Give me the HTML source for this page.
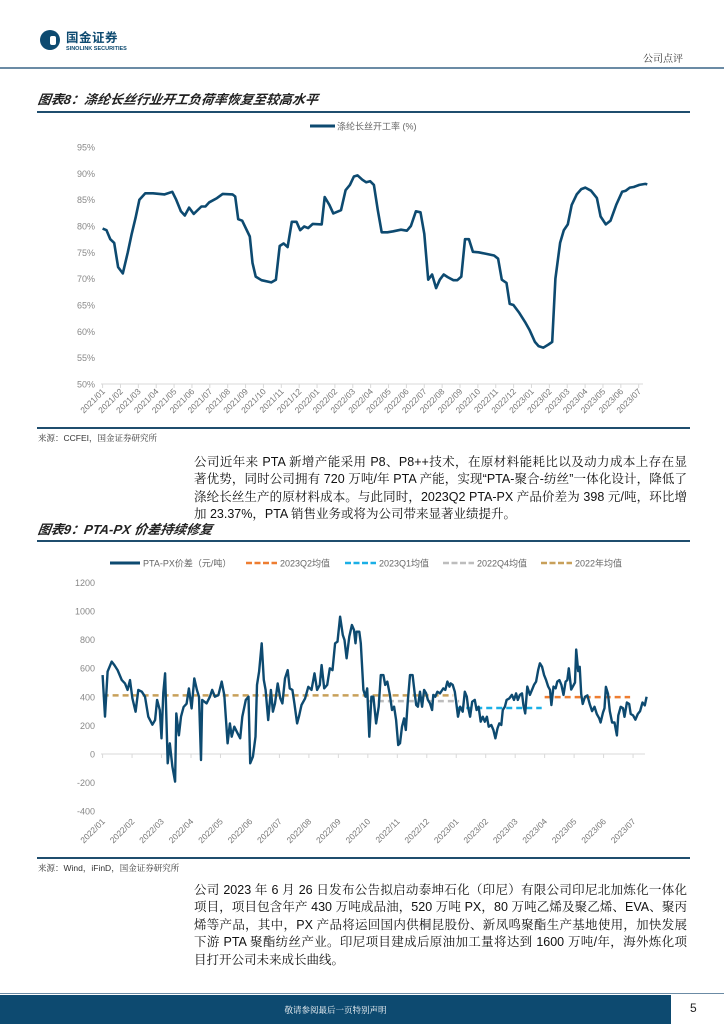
<!DOCTYPE html>
<html><head><meta charset="utf-8">
<style>
body{margin:0;width:724px;height:1024px;position:relative;background:#fff;font-family:"Liberation Sans","Noto Sans CJK SC",sans-serif;overflow:hidden}
.abs{position:absolute}
.title{font-family:"Liberation Sans","Noto Sans CJK SC",sans-serif;font-weight:bold;font-style:italic;font-size:13px;color:#222;transform:skewX(-8deg)}
.para{font-family:"Liberation Sans","Noto Serif CJK SC",serif;font-size:12.5px;color:#111;left:194px;width:493px}
.para div{text-align:justify;text-align-last:justify;height:17.4px;line-height:17.4px;white-space:nowrap}
.para div.last{text-align-last:left}
.src{font-family:"Liberation Sans","Noto Serif CJK SC",serif;font-size:8.5px;color:#333}
</style></head><body>
<div class="abs" style="left:40px;top:30px;width:20px;height:20px;border-radius:50%;background:#0d4a70"></div>
<div class="abs" style="left:50px;top:36px;width:6px;height:9px;background:#fff;border-radius:2px"></div>
<div class="abs" style="left:66px;top:31px;font-size:12.5px;line-height:14px;font-weight:bold;color:#0d4a70;letter-spacing:0.5px">国金证券</div>
<div class="abs" style="left:66px;top:46px;font-size:5.5px;line-height:6px;font-weight:bold;color:#0d4a70">SINOLINK SECURITIES</div>
<div class="abs" style="left:643px;top:50px;font-size:10px;color:#333;font-family:'Liberation Serif','Noto Serif CJK SC',serif">公司点评</div>
<div class="abs" style="left:0;top:67px;width:724px;height:2px;background:#6b8ba5"></div>

<div class="abs title" style="left:38px;top:89px">图表8：涤纶长丝行业开工负荷率恢复至较高水平</div>
<div class="abs" style="left:37px;top:111px;width:653px;height:1.5px;background:#1f4e6e"></div>

<div class="abs" style="left:37px;top:427px;width:653px;height:1.5px;background:#1f4e6e"></div>
<div class="abs src" style="left:38px;top:432px">来源：CCFEI，国金证券研究所</div>

<div class="abs para" style="top:454px">
<div>公司近年来 PTA 新增产能采用 P8、P8++技术，在原材料能耗比以及动力成本上存在显</div>
<div>著优势，同时公司拥有 720 万吨/年 PTA 产能，实现“PTA-聚合-纺丝”一体化设计，降低了</div>
<div>涤纶长丝生产的原材料成本。与此同时，2023Q2 PTA-PX 产品价差为 398 元/吨，环比增</div>
<div class="last">加 23.37%，PTA 销售业务或将为公司带来显著业绩提升。</div>
</div>

<div class="abs title" style="left:38px;top:519px">图表9：PTA-PX 价差持续修复</div>
<div class="abs" style="left:37px;top:540px;width:653px;height:1.5px;background:#1f4e6e"></div>

<div class="abs" style="left:37px;top:857px;width:653px;height:1.5px;background:#1f4e6e"></div>
<div class="abs src" style="left:38px;top:862px">来源：Wind，iFinD，国金证券研究所</div>

<div class="abs para" style="top:882px">
<div>公司 2023 年 6 月 26 日发布公告拟启动泰坤石化（印尼）有限公司印尼北加炼化一体化</div>
<div>项目，项目包含年产 430 万吨成品油，520 万吨 PX，80 万吨乙烯及聚乙烯、EVA、聚丙</div>
<div>烯等产品，其中，PX 产品将运回国内供桐昆股份、新凤鸣聚酯生产基地使用，加快发展</div>
<div>下游 PTA 聚酯纺丝产业。印尼项目建成后原油加工量将达到 1600 万吨/年，海外炼化项</div>
<div class="last">目打开公司未来成长曲线。</div>
</div>

<div class="abs" style="left:0;top:995px;width:671px;height:29px;background:#0d4a70"></div>
<div class="abs" style="left:0;top:993px;width:724px;height:1px;background:#6b8ba5"></div>
<div class="abs" style="left:0;width:671px;top:1004px;text-align:center;font-size:8.5px;color:#fff;font-family:'Liberation Serif','Noto Serif CJK SC',serif">敬请参阅最后一页特别声明</div>
<div class="abs" style="left:690px;top:1001px;font-size:12px;color:#222">5</div>

<svg id="svg" class="abs" style="left:0;top:0" width="724" height="1024"></svg>

<script>
// ---- Chart 8 data (months since 2021/01, utilization %)
const c1Months = [0,0.22,0.43,0.65,0.87,1.13,1.41,1.63,1.84,2.06,2.39,2.82,3.47,3.9,4.12,4.38,4.6,4.84,5.1,5.53,5.75,5.97,6.4,6.72,7.27,7.42,7.59,7.81,8.24,8.39,8.57,8.89,9.44,9.7,9.91,10.13,10.35,10.59,10.85,11.06,11.28,11.5,11.76,12.26,12.43,12.69,12.91,13.34,13.6,13.84,14.06,14.27,14.53,14.75,14.97,15.18,15.4,15.62,15.94,16.27,16.7,17.03,17.25,17.53,17.79,18,18.22,18.44,18.66,18.87,19.09,19.31,19.63,19.85,20.07,20.28,20.5,20.72,21.04,21.48,21.91,22.13,22.34,22.6,22.78,22.99,23.32,23.64,23.9,24.19,24.4,24.66,24.95,25.16,25.34,25.6,25.81,26.03,26.25,26.53,26.79,27.01,27.33,27.66,27.87,28.16,28.42,28.74,29.07,29.28,29.5,29.72,30.04,30.37,30.48];
const c1Values = [79.5,79.2,77.5,76.8,72.2,71,75,78.5,81.5,85,86.2,86.2,86,86.5,85,82.8,82,83.5,82.3,83.7,83.7,84.5,85.3,86.1,86,85.6,81.3,81,78,73,70.4,69.7,69.3,69.8,76.2,76.7,76,80.8,80.8,79.2,79.9,79.6,80.4,80.3,85.5,84,82.4,83,86.8,87.8,89.4,89.6,88.8,88.3,88.5,87.8,83,78.8,78.8,79,79.3,79.1,80,82.8,82.6,78.5,69.8,70.8,68.2,69.8,70.8,70.3,69.7,69.7,70.4,77.5,77.5,75.1,75,74.7,74.4,73.8,69.8,69.2,65.2,65,63.5,61.8,60.2,58,57.2,56.9,57.5,58,70,76.8,79.2,80.3,84,86,87,87.3,86.7,85.3,81.8,80.3,81,84,86.5,86.7,87.3,87.4,87.8,88,87.9];
const c1YTicks = [50,55,60,65,70,75,80,85,90,95];
const c1XLabels = ["2021/01","2021/02","2021/03","2021/04","2021/05","2021/06","2021/07","2021/08","2021/09","2021/10","2021/11","2021/12","2022/01","2022/02","2022/03","2022/04","2022/05","2022/06","2022/07","2022/08","2022/09","2022/10","2022/11","2022/12","2023/01","2023/02","2023/03","2023/04","2023/05","2023/06","2023/07"];

// ---- Chart 9 data (months since 2022/01, PTA-PX spread 元/吨)
const c2Months = [0,0.08,0.17,0.31,0.4,0.51,0.65,0.76,0.85,0.93,1.01,1.12,1.21,1.33,1.44,1.55,1.69,1.78,1.85,1.94,2,2.06,2.12,2.21,2.28,2.37,2.46,2.5,2.59,2.66,2.75,2.85,2.93,3.02,3.11,3.2,3.27,3.34,3.38,3.53,3.64,3.72,3.81,3.93,4.04,4.13,4.24,4.32,4.38,4.47,4.58,4.67,4.74,4.86,4.95,5.01,5.1,5.19,5.24,5.31,5.4,5.47,5.53,5.62,5.71,5.78,5.85,5.94,6.03,6.1,6.19,6.28,6.35,6.44,6.51,6.6,6.66,6.75,6.87,6.98,7.09,7.19,7.28,7.37,7.43,7.52,7.62,7.71,7.8,
7.89,7.97,8.06,8.15,8.21,8.28,8.37,8.46,8.53,8.58,8.62,8.71,8.76,8.85,8.92,8.98,9.05,9.12,9.19,9.28,9.37,9.44,9.53,9.59,9.66,9.75,9.82,9.89,9.96,10.03,10.09,10.16,10.23,10.29,10.36,10.43,10.52,10.59,10.64,10.7,10.77,10.84,10.91,10.98,11.04,11.11,11.18,11.22,11.29,11.36,11.45,11.56,11.63,11.7,11.77,11.81,11.88,11.95,11.99,12.06,12.13,12.22,12.29,12.36,12.4,12.47,12.54,12.63,12.69,12.76,12.83,12.9,12.97,13.04,13.1,13.19,13.26,13.33,13.4,13.46,13.53,13.58,13.65,13.71,13.8,13.89,13.96,14.03,14.09,14.16,14.23,14.28,14.34,14.41,14.5,14.57,14.64,14.71,14.78,14.84,14.91,14.98,15.05,15.12,15.18,15.23,15.3,15.37,15.43,15.5,15.57,15.64,15.71,15.77,15.82,
15.9,16.03,16.07,16.14,16.19,16.24,16.29,16.37,16.45,16.53,16.61,16.69,16.77,16.85,16.9,16.98,17.03,17.08,17.15,17.21,17.29,17.37,17.45,17.5,17.58,17.66,17.71,17.79,17.87,17.92,18,18.08,18.16,18.24,18.32,18.4,18.46];
const c2Values = [552,262,576,646,622,587,517,494,448,517,389,296,448,436,401,261,205,238,378,308,110,427,564,-65,75,-89,-193,284,131,261,329,352,459,319,529,448,401,-42,378,354,401,448,401,412,506,412,75,214,121,191,145,110,261,378,401,-65,-19,121,483,576,774,518,448,238,448,296,354,494,389,354,529,587,459,448,354,214,261,343,389,470,448,564,448,483,622,459,483,599,587,
774,786,960,832,797,669,821,902,867,774,855,855,774,448,401,459,121,401,401,214,331,552,552,483,506,413,308,331,238,63,75,191,249,168,378,552,552,424,343,331,436,331,448,424,378,354,308,413,401,436,424,459,448,506,471,494,483,436,378,261,331,296,436,401,331,261,366,378,308,331,226,261,226,261,191,203,168,110,179,214,203,308,331,378,389,413,378,424,378,413,424,343,284,471,413,448,483,506,588,634,611,552,517,471,448,343,471,459,506,517,483,413,506,517,599,
450,500,730,580,610,420,350,400,410,350,300,330,280,250,220,290,320,470,420,300,220,220,130,270,330,320,260,360,350,280,270,240,280,300,360,340,400];
const c2YTicks = [-400,-200,0,200,400,600,800,1000,1200];
const c2XLabels = ["2022/01","2022/02","2022/03","2022/04","2022/05","2022/06","2022/07","2022/08","2022/09","2022/10","2022/11","2022/12","2023/01","2023/02","2023/03","2023/04","2023/05","2023/06","2023/07"];
const avgNames = ["2023Q2均值","2023Q1均值","2022Q4均值","2022年均值"];
const avgValues = [398,322,370,410];
const avgStart = [15.0,12.0,9.0,0];
const avgEnd = [17.9,14.9,12.1,11.9];
const avgColors = ["#ee7d31","#1aafe6","#bdbdbd","#c8a05a"];

const NS="http://www.w3.org/2000/svg", svg=document.getElementById('svg');
function mk(tag,attrs,parent){const e=document.createElementNS(NS,tag);for(const k in attrs)e.setAttribute(k,attrs[k]);(parent||svg).appendChild(e);return e;}

// ---- Chart 8
const x1=m=>102.6+m*17.87, y1=v=>384-(v-50)*(237/45);
const g1=mk('g',{});


c1YTicks.forEach(v=>{const t=mk('text',{x:95,y:y1(v)+3.5,'text-anchor':'end','font-size':9,fill:'#888'},g1);t.textContent=v+'%';

});
const ax1=mk('line',{x1:101,x2:643,y1:384,y2:384,stroke:'#d9d9d9','stroke-width':1},g1);


c1XLabels.forEach((l,i)=>{const x=x1(i);mk('line',{x1:x,x2:x,y1:384,y2:388,stroke:'#d9d9d9'},g1);
const t=mk('text',{x:x+3,y:392,'text-anchor':'end','font-size':8.5,fill:'#777',transform:`rotate(-45 ${x+3} 392)`},g1);t.textContent=l;

});
const p1=mk('path',{d:c1Months.map((m,i)=>(i?'L':'M')+x1(m).toFixed(1)+','+y1(c1Values[i]).toFixed(1)).join(''),fill:'none',stroke:'#0d4a70','stroke-width':2.6,'stroke-linejoin':'round'},g1);


const lg1=mk('line',{x1:310,x2:335,y1:126,y2:126,stroke:'#0d4a70','stroke-width':3},g1);


const lt1=mk('text',{x:337,y:129.5,'font-size':9,fill:'#666'},g1);lt1.textContent='涤纶长丝开工率 (%)';



// ---- Chart 9
const x2=m=>102.6+m*29.47, y2=v=>754-v*(28.6/200);
const g2=mk('g',{});


c2YTicks.forEach(v=>{const t=mk('text',{x:95,y:y2(v)+3.5,'text-anchor':'end','font-size':9,fill:'#888'},g2);t.textContent=v;

});
const ax2=mk('line',{x1:101,x2:645,y1:754,y2:754,stroke:'#d9d9d9','stroke-width':1},g2);


c2XLabels.forEach((l,i)=>{const x=x2(i);mk('line',{x1:x,x2:x,y1:754,y2:758,stroke:'#d9d9d9'},g2);
const t=mk('text',{x:x+3,y:822,'text-anchor':'end','font-size':8.5,fill:'#777',transform:`rotate(-45 ${x+3} 822)`},g2);t.textContent=l;

});
avgValues.forEach((v,i)=>{const l=mk('line',{x1:x2(avgStart[i]),x2:x2(avgEnd[i]),y1:y2(v),y2:y2(v),stroke:avgColors[i],'stroke-width':2.5,'stroke-dasharray':'6 4'},g2);

});
const p2=mk('path',{d:c2Months.map((m,i)=>(i?'L':'M')+x2(m).toFixed(1)+','+y2(c2Values[i]).toFixed(1)).join(''),fill:'none',stroke:'#0d4a70','stroke-width':2.4,'stroke-linejoin':'round'},g2);


// legend
const lgx=[110,246,345,443,541];
const ls=mk('line',{x1:lgx[0],x2:lgx[0]+30,y1:563,y2:563,stroke:'#0d4a70','stroke-width':3},g2);


const lt=mk('text',{x:lgx[0]+33,y:566.5,'font-size':9,fill:'#666'},g2);lt.textContent='PTA-PX价差（元/吨）';


avgNames.forEach((n,i)=>{const x=lgx[i+1];
const s=mk('line',{x1:x,x2:x+31,y1:563,y2:563,stroke:avgColors[i],'stroke-width':2.5,'stroke-dasharray':'6 2.5'},g2);


const t=mk('text',{x:x+34,y:566.5,'font-size':9,fill:'#666'},g2);t.textContent=n;

});
</script>
</body></html>
